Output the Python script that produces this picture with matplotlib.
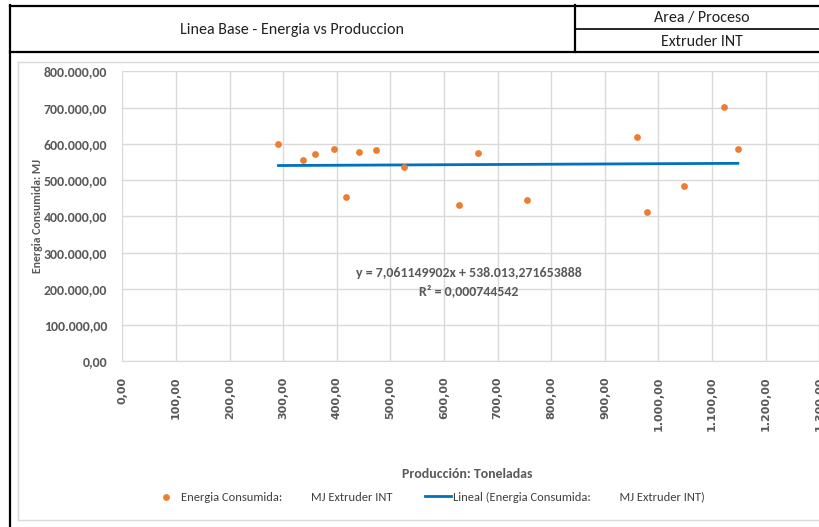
import matplotlib
matplotlib.use("Agg")
import matplotlib.pyplot as plt
from matplotlib.lines import Line2D
from matplotlib import font_manager
import numpy as np

# production (t) vs consumed energy (MJ)
produccion = [291, 336, 359, 394, 417, 441, 473, 525, 628, 664, 755,
              960, 978, 1047, 1122, 1148]
energia = [598600, 555300, 571000, 585700, 454000, 576600, 583000, 535000,
           432000, 573800, 445000, 620000, 412400, 484400, 702000, 585000]

# Excel linear trendline coefficients shown on the chart
pendiente = 7.061149902
intercepto = 538013.271653888
r2 = 0.000744542

x_ticks = np.arange(0, 1301, 100)
y_ticks = np.arange(0, 800001, 100000)

# Calibri look-alike: a narrow face if there is one, otherwise Lato
installed = {f.name for f in font_manager.fontManager.ttflist}
NARROW = ["Lato", "DejaVu Sans"]
for cand in ["Carlito", "Liberation Sans Narrow"]:
    if cand in installed:
        NARROW = [cand, "DejaVu Sans"]
        break
GREY = "#595959"


def es_num(v):
    # spanish number format: 1.234.567,89
    s = f"{v:,.2f}"
    return s.replace(",", "X").replace(".", ",").replace("X", ".")


fig = plt.figure(figsize=(8.2, 5.27), dpi=100)
W, H = 820, 527


def fx(px):
    return px / W


def fy(py):
    return 1 - py / H


def hline(x0, x1, y, lw=1.6, c="black"):
    fig.add_artist(Line2D([fx(x0), fx(x1)], [fy(y), fy(y)], color=c, lw=lw))


def vline(x, y0, y1, lw=1.6, c="black"):
    fig.add_artist(Line2D([fx(x), fx(x)], [fy(y0), fy(y1)], color=c, lw=lw))


# header table + outer frame
hline(10, 820, 5.5)
hline(10, 820, 52)
hline(575, 820, 29, lw=1.2)
vline(10.5, 5, 527)
vline(575, 5, 52)

fig.text(fx(292), fy(30), "Linea Base - Energia vs Produccion", family=NARROW,
         fontsize=11.5, color="#222222", ha="center", va="center")
fig.text(fx(702), fy(18), "Area / Proceso", family=NARROW,
         fontsize=11.5, color="#222222", ha="center", va="center")
fig.text(fx(702), fy(41.5), "Extruder INT", family=NARROW,
         fontsize=11.5, color="#222222", ha="center", va="center")

# chart area border (light grey)
hline(18, 820, 61.5, lw=1.0, c="#d9d9d9")
hline(18, 820, 520, lw=1.0, c="#d9d9d9")
vline(18.5, 61.5, 520, lw=1.0, c="#d9d9d9")

ax = fig.add_axes([fx(122.5), fy(361.3), fx(819.3) - fx(122.5),
                   fy(71.3) - fy(361.3)])

ax.scatter(produccion, energia, s=24, color="#ED7D31", zorder=3,
           linewidths=0, label="Energia Consumida:          MJ Extruder INT")
xt = np.array([min(produccion), max(produccion)])
ax.plot(xt, pendiente * xt + intercepto, color="#0070C0", lw=2.0, zorder=2,
        label="Lineal (Energia Consumida:          MJ Extruder INT)")

ax.set_xlim(0, 1300)
ax.set_ylim(0, 800000)
ax.set_xticks(x_ticks)
ax.set_yticks(y_ticks)
ax.set_xticklabels([es_num(v) for v in x_ticks], rotation=90, fontsize=8,
                   color=GREY, fontweight="bold")
ax.set_yticklabels([es_num(v) for v in y_ticks], fontsize=10, color=GREY,
                   fontweight="bold", family=NARROW)
ax.tick_params(length=0)
ax.tick_params(axis="y", pad=11)
ax.tick_params(axis="x", pad=11)
ax.grid(True, color="#d9d9d9", lw=1.0)
ax.set_axisbelow(True)
for sp in ax.spines.values():
    sp.set_visible(False)
ax.spines["bottom"].set_visible(True)
ax.spines["bottom"].set_color("#d9d9d9")

fig.text(fx(38), fy(216), "Energia Consumida: MJ", rotation=90, family=NARROW,
         fontsize=8.5, fontweight="bold", color=GREY, ha="center", va="center")
fig.text(fx(467), fy(474), "Producción: Toneladas", family=NARROW,
         fontsize=10, fontweight="bold", color=GREY, ha="center", va="center")

eq = "y = 7,061149902x + 538.013,271653888\nR² = " + f"{r2:.9f}".replace(".", ",")
ax.text(0.497, 0.272, eq, transform=ax.transAxes, fontsize=10,
        fontweight="bold", color=GREY, family=NARROW, ha="center",
        va="center", linespacing=1.45)

leg = fig.legend(loc="center", bbox_to_anchor=(fx(429), fy(497)), ncol=2,
                 frameon=False, handlelength=2.1, columnspacing=2.6,
                 handletextpad=0.15, prop={"family": NARROW, "size": 9})
for t in leg.get_texts():
    t.set_color("#404040")

fig.savefig("out.png", dpi=100)
